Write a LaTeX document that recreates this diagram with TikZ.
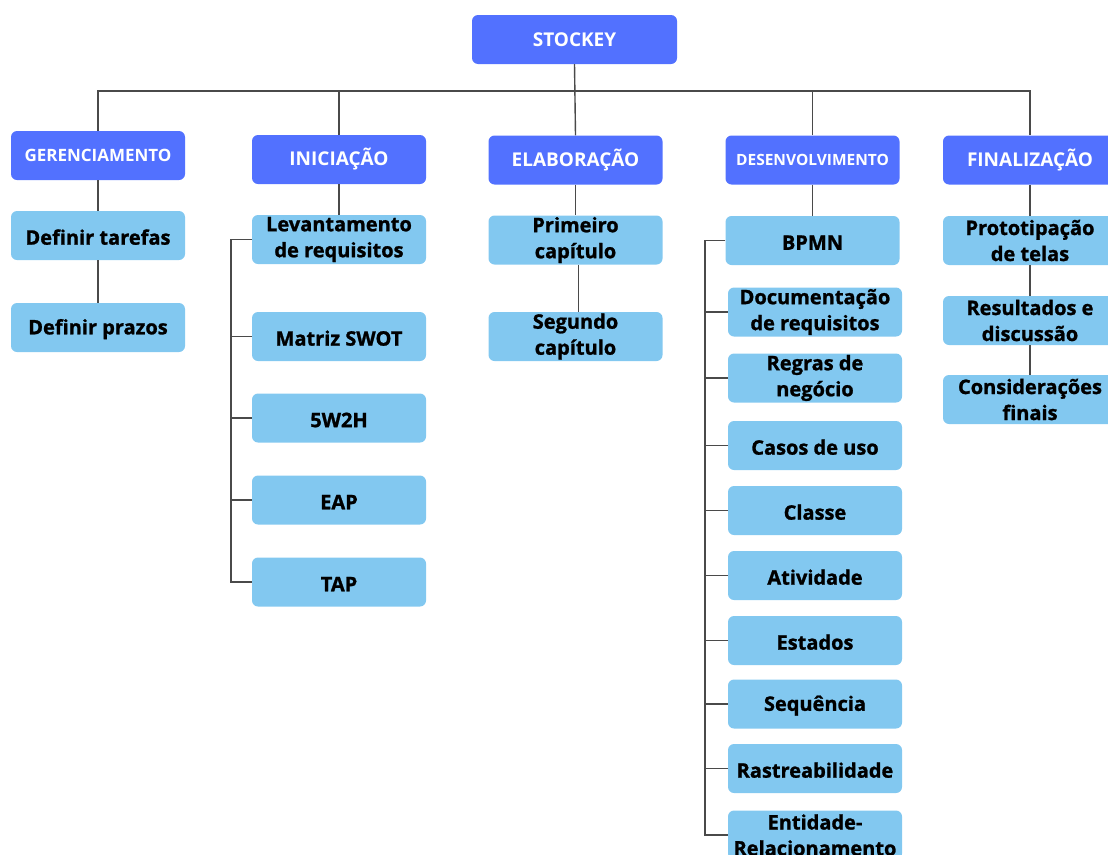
\documentclass[tikz,border=0pt]{standalone}
\usepackage{fontspec}
\setmainfont{Open Sans}
\newfontfamily\heavy{Open Sans}[BoldFeatures={FakeBold=1.2}]
\definecolor{headblue}{HTML}{5271FF}
\definecolor{itemblue}{HTML}{82C8F0}
\definecolor{wire}{HTML}{4A4A4A}
\begin{document}
\begin{tikzpicture}[x=1pt,y=-1pt,
  box/.style={rectangle, rounded corners=6pt, inner sep=0pt, align=center,
    minimum width=174pt, minimum height=49pt, font=\bfseries},
  head/.style={box, fill=headblue, text=white},
  item/.style={box, fill=itemblue, text=black,
    font=\fontsize{20}{26}\heavy\bfseries,
    execute at begin node={\rule{0pt}{18.5pt}}},
  wiring/.style={draw=wire, line width=1.4pt}]
\useasboundingbox (0,0) rectangle (1108,854);
\clip (0,0) rectangle (1108,854);

% root
\node[head, minimum width=205pt, font=\fontsize{19}{23}\selectfont\bfseries] (root) at (574.5,39.5) {STOCKEY};

% phases
\node[head, font=\fontsize{17}{21}\selectfont\bfseries] (ger) at (98,155.5) {GERENCIAMENTO};
\node[head, font=\fontsize{19}{23}\selectfont\bfseries] (ini) at (339,159.5) {INICIAÇÃO};
\node[head, font=\fontsize{19}{23}\selectfont\bfseries] (ela) at (575.5,160) {ELABORAÇÃO};
\node[head, font=\fontsize{15.5}{19}\selectfont\bfseries] (des) at (812.5,160) {DESENVOLVIMENTO};
\node[head, font=\fontsize{19}{23}\selectfont\bfseries] (fin) at (1030,160) {FINALIZAÇÃO};

% gerenciamento
\node[item] (tar) at (98,235.5) {Definir tarefas};
\node[item] (pra) at (98,327.5) {Definir prazos};

% iniciacao
\node[item] (lev) at (339,239.5) {Levantamento\\de requisitos};
\node[item] (swo) at (339,336.5) {Matriz SWOT};
\node[item] (w2h) at (339,418) {5W2H};
\node[item] (eap) at (339,500) {EAP};
\node[item] (tap) at (339,582) {TAP};

% elaboracao
\node[item] (pri) at (575.5,240) {Primeiro\\capítulo};
\node[item] (seg) at (575.5,336.5) {Segundo\\capítulo};

% desenvolvimento
\node[item] (bpm) at (812.5,240.5) {BPMN};
\node[item] (doc) at (815,312) {Documentação\\de requisitos};
\node[item] (reg) at (815,378) {Regras de\\negócio};
\node[item] (cas) at (815,445.5) {Casos de uso};
\node[item] (cla) at (815,510.5) {Classe};
\node[item] (ati) at (815,575.5) {Atividade};
\node[item] (est) at (815,640.5) {Estados};
\node[item] (seq) at (815,704) {Sequência};
\node[item] (ras) at (815,768.5) {Rastreabilidade};
\node[item] (ent) at (815,835) {Entidade-\\Relacionamento};

% finalizacao
\node[item] (pro) at (1030,240.5) {Prototipação\\de telas};
\node[item] (res) at (1030,320.5) {Resultados e\\discussão};
\node[item] (con) at (1030,399.5) {Considerações\\finais};

% connectors
\coordinate (bus) at (575,91);
\coordinate (ibr) at (231,0);
\coordinate (dbr) at (705,0);

\draw[wiring] (root.south) -- (ela.north);
\draw[wiring] (ger.north) -- (ger.north |- bus) -- (fin.north |- bus) -- (fin.north);
\draw[wiring] (ini.north) -- (ini.north |- bus);
\draw[wiring] (des.north) -- (des.north |- bus);

\draw[wiring] (ger.south) -- (tar.north);
\draw[wiring] (tar.south) -- (pra.north);

\draw[wiring] (ini.south) -- (lev.north);
\draw[wiring] (lev.west) -- (lev.west -| ibr) |- (tap.west);
\foreach \n in {swo,w2h,eap}
  \draw[wiring] (\n.west) -- (\n.west -| ibr);

\draw[wiring] (ela.south) -- (pri.north);
\draw[wiring] ([xshift=3pt]pri.south) -- ([xshift=3pt]seg.north);

\draw[wiring] (des.south) -- (bpm.north);
\draw[wiring] (bpm.west) -- (bpm.west -| dbr) |- (ent.west);
\foreach \n in {doc,reg,cas,cla,ati,est,seq,ras}
  \draw[wiring] (\n.west) -- (\n.west -| dbr);

\draw[wiring] (fin.south) -- (pro.north);
\draw[wiring] (pro.south) -- (res.north);
\draw[wiring] (res.south) -- (con.north);
\end{tikzpicture}
\end{document}
